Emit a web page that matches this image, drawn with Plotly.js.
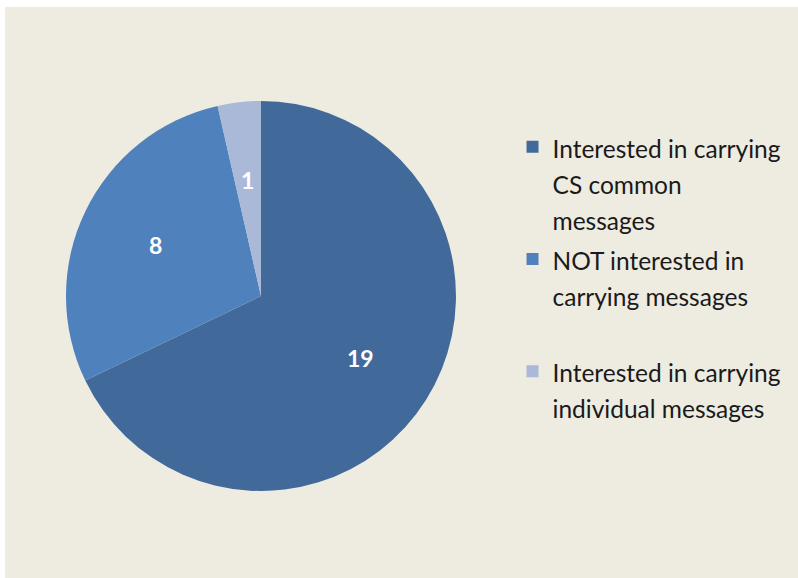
<!DOCTYPE html>
<html>
<head>
<meta charset="utf-8">
<script src="https://cdn.plot.ly/plotly-3.0.1.min.js"></script>
<style>
  html, body { margin: 0; padding: 0; background: #ffffff; width: 798px; height: 578px; overflow: hidden; }
  #chart { position: absolute; left: 5px; top: 7px; width: 793px; height: 571px; }
</style>
</head>
<body>
<div id="chart"></div>
<script>
// Survey responses about carrying messages
const categories = [
  "Interested in carrying<br>CS common<br>messages",
  "NOT interested in<br>carrying messages<br> ",
  "Interested in carrying<br>individual messages"
];
const counts = [19, 8, 1];
const sliceColors = ["#416A9B", "#4F81BD", "#AAB9D8"];

const W = 793, H = 571;
const pieDomain = { x: [0.0769, 0.5687], y: [0.1524, 0.8354] };

// Legend glyphs are drawn a little smaller than the legend font so the
// rows get more generous spacing
const legendGlyphSize = 24.5;
const legendLabels = categories.map(c =>
  c.split("<br>").map(line => `<span style="font-size:${legendGlyphSize}px">${line}</span>`).join("<br>")
);

const trace = {
  type: "pie",
  labels: legendLabels,
  values: counts,
  sort: false,
  direction: "clockwise",
  rotation: 0,
  marker: { colors: sliceColors, line: { width: 0 } },
  textinfo: "none",
  hoverinfo: "label+value",
  domain: pieDomain
};

// Value labels sit on each slice's bisector, part-way out from the centre
const total = counts.reduce((a, b) => a + b, 0);
const cx = (pieDomain.x[0] + pieDomain.x[1]) / 2;
const cy = (pieDomain.y[0] + pieDomain.y[1]) / 2;
const radiusPx = (pieDomain.x[1] - pieDomain.x[0]) * W / 2;
const labelFrac = 0.6;
let cum = 0;
const annotations = counts.map(v => {
  const mid = (cum + v / 2) / total * 2 * Math.PI;
  cum += v;
  const r = radiusPx * labelFrac;
  return {
    xref: "paper", yref: "paper",
    x: cx + Math.sin(mid) * r / W,
    y: cy + Math.cos(mid) * r / H,
    text: String(v),
    showarrow: false,
    xanchor: "center", yanchor: "middle",
    font: { family: "Lato, 'Open Sans', sans-serif", size: 23, color: "#ffffff", weight: "bold" }
  };
});

const layout = {
  width: W,
  height: H,
  margin: { l: 0, r: 0, t: 0, b: 0 },
  paper_bgcolor: "#EEEBE0",
  plot_bgcolor: "#EEEBE0",
  showlegend: true,
  annotations: annotations,
  legend: {
    x: 0.64, y: 0.7985, xanchor: "left", yanchor: "top",
    valign: "top",
    bgcolor: "rgba(0,0,0,0)",
    font: { family: "Lato, 'Open Sans', sans-serif", size: 28, color: "#1a1a1a" }
  }
};

Plotly.newPlot("chart", [trace], layout, { displayModeBar: false, staticPlot: true });
</script>
</body>
</html>
